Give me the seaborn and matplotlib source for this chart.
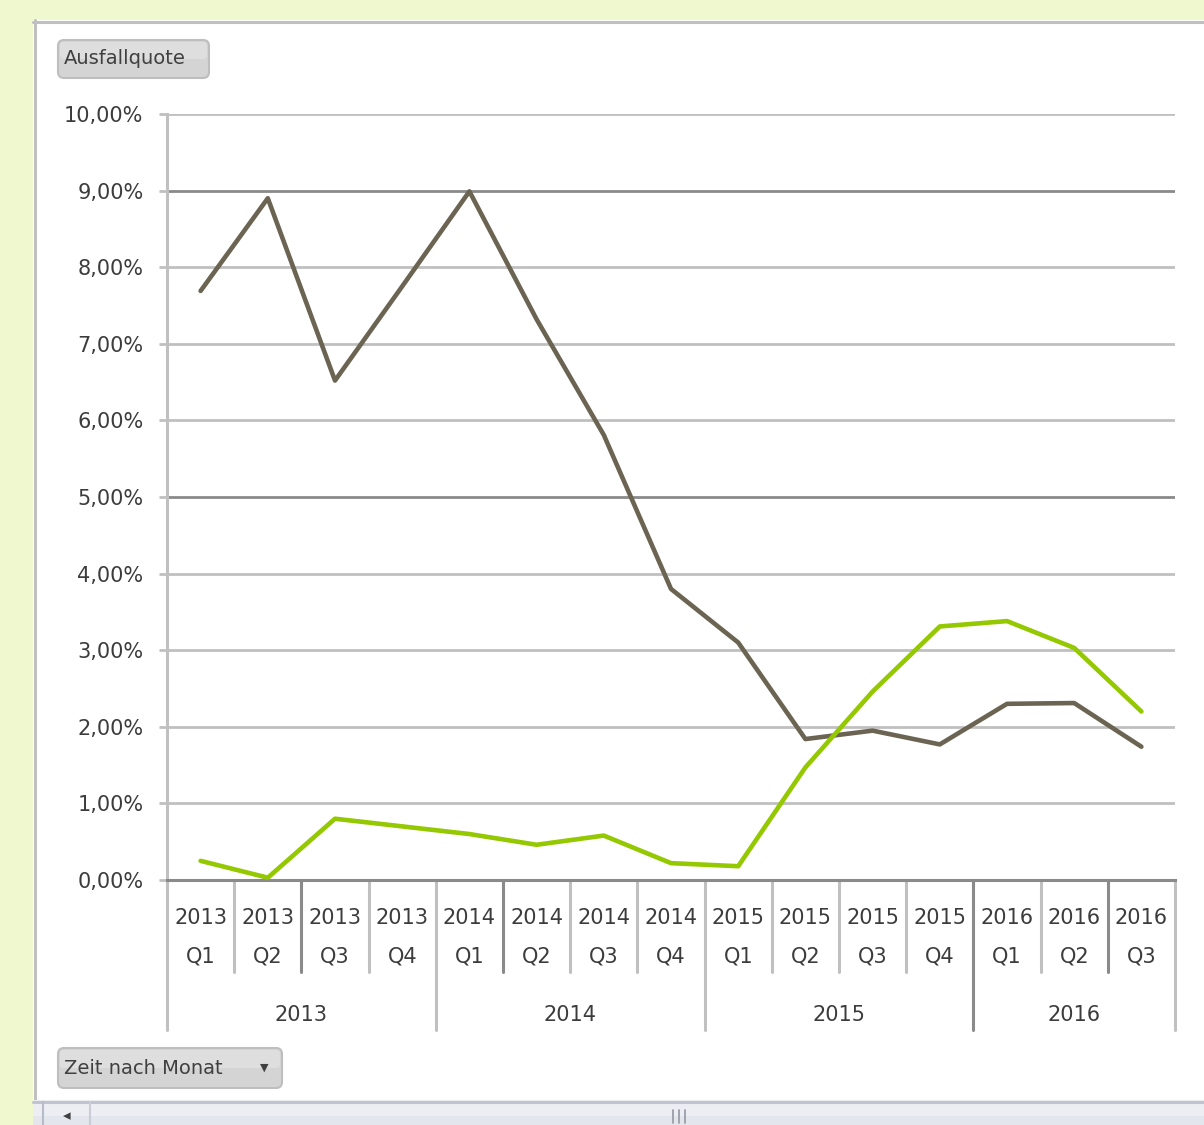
import numpy as np
import pandas as pd
import matplotlib
matplotlib.use("Agg")
import matplotlib.pyplot as plt
import matplotlib.transforms as mtransforms
from matplotlib.patches import Rectangle, FancyBboxPatch
from matplotlib.lines import Line2D
from matplotlib.ticker import FuncFormatter
import seaborn as sns

# ---------------- data ----------------
years = ["2013"] * 4 + ["2014"] * 4 + ["2015"] * 4 + ["2016"] * 3
quarters = ["Q1", "Q2", "Q3", "Q4"] * 3 + ["Q1", "Q2", "Q3"]
year_groups = ["2013", "2014", "2015", "2016"]
series_names = ["Reihe 1", "Reihe 2"]
values_brown = [7.69, 8.90, 6.52, 7.75, 8.99, 7.32, 5.81, 3.80, 3.10, 1.84, 1.95, 1.77, 2.30, 2.31, 1.74]
values_green = [0.25, 0.03, 0.80, 0.70, 0.60, 0.46, 0.58, 0.22, 0.18, 1.47, 2.46, 3.31, 3.38, 3.03, 2.20]
y_ticks = [0, 1, 2, 3, 4, 5, 6, 7, 8, 9, 10]

categories = [f"{y}\n{q}" for y, q in zip(years, quarters)]
pos = np.arange(len(categories))
df = pd.DataFrame({
    "pos": np.concatenate([pos, pos]),
    "Wert": values_brown + values_green,
    "Reihe": [series_names[0]] * len(pos) + [series_names[1]] * len(pos),
})

# ---------------- style ----------------
W, H = 1204, 1125
BG_GREEN = "#EFF8CE"
BROWN = "#6B6453"
GREEN = "#94C800"
LIGHT = "#C0C0C0"
DARK = "#8A8A8A"
TXT = "#3C3C3C"

sns.set_theme(style="white")
plt.rcParams["font.family"] = ["DejaVu Sans"]

fig = plt.figure(figsize=(W / 100, H / 100), dpi=100, facecolor=BG_GREEN)
ID = mtransforms.IdentityTransform()


def dy(y):
    return H - y


# white chart area + borders
fig.patches.append(Rectangle((33, dy(1100)), W - 33, 1100 - 20, transform=ID,
                             facecolor="white", edgecolor="none", zorder=-5))
fig.lines.append(Line2D([33, W], [dy(21.5), dy(21.5)], transform=ID, color=LIGHT, lw=2.2, zorder=1))
fig.lines.append(Line2D([34.5, 34.5], [dy(20), dy(1100)], transform=ID, color=LIGHT, lw=2.2, zorder=1))

# scroll bar at the bottom
fig.patches.append(Rectangle((33, 0), W - 33, 25, transform=ID,
                             facecolor="#ECEEF4", edgecolor="none", zorder=1))
fig.patches.append(Rectangle((33, 0), W - 33, 9, transform=ID,
                             facecolor="#E4E6EE", edgecolor="none", zorder=1))
fig.lines.append(Line2D([33, W], [dy(1101.5), dy(1101.5)], transform=ID, color="#C0C4CE", lw=2.2, zorder=2))
fig.lines.append(Line2D([43, 43], [0, dy(1102)], transform=ID, color="#B8BCC6", lw=1.5, zorder=2))
fig.lines.append(Line2D([90, 90], [0, dy(1102)], transform=ID, color="#C8CCD6", lw=1.5, zorder=2))
fig.text(67 / W, 1 - 1116 / H, "◂", ha="center", va="center", fontsize=11, color="#404040", zorder=3)
for xx in (673, 679, 685):
    fig.lines.append(Line2D([xx, xx], [dy(1123), dy(1110)], transform=ID, color="#9A9EA8", lw=1.3, zorder=2))

# ---------------- axes ----------------
ax = fig.add_axes([167 / W, 1 - 880 / H, (1175 - 167) / W, (880 - 114) / H])
ax.set_facecolor("none")
ax.set_zorder(5)

for v in y_ticks[1:]:
    ax.axhline(v, color=DARK if v in (5, 9) else LIGHT, lw=2.0, zorder=0)

sns.lineplot(data=df, x="pos", y="Wert", hue="Reihe", palette=[BROWN, GREEN],
             linewidth=3.3, sort=False, legend=False, ax=ax, zorder=3)

ax.set_xlim(-0.5, len(categories) - 0.5)
ax.set_ylim(0, 10)
ax.set_xlabel("")
ax.set_ylabel("")

ax.set_yticks(y_ticks)
ax.yaxis.set_major_formatter(FuncFormatter(lambda v, p: f"{v:.2f}".replace(".", ",") + "%"))
ax.tick_params(axis="y", length=6, width=2.0, color=LIGHT, pad=11, labelsize=15, labelcolor=TXT, left=True)
ax.set_xticks(pos)
ax.set_xticklabels(categories, linespacing=2.15)
ax.tick_params(axis="x", length=0, pad=20, labelsize=15, labelcolor=TXT)

for s in ("top", "right"):
    ax.spines[s].set_visible(False)
ax.spines["left"].set_color(LIGHT)
ax.spines["left"].set_linewidth(2.2)
ax.spines["bottom"].set_color(DARK)
ax.spines["bottom"].set_linewidth(2.2)

# category separators and year labels below the axis
bt = mtransforms.blended_transform_factory(ax.transData, ax.transAxes)
year_bounds = [-0.5]
for i in range(1, len(years)):
    if years[i] != years[i - 1]:
        year_bounds.append(i - 0.5)
year_bounds.append(len(years) - 0.5)
dark_bounds = {1.5, 4.5, 11.5, 13.5}
short_bottom = -(972 - 880) / 766
long_bottom = -(1030 - 880) / 766
for b in np.arange(-0.5, len(categories), 1.0):
    is_year = any(abs(b - yb) < 1e-9 for yb in year_bounds)
    ax.add_line(Line2D([b, b], [0, long_bottom if is_year else short_bottom], transform=bt,
                       color=DARK if b in dark_bounds else LIGHT, lw=2.2, clip_on=False))
for k, yg in enumerate(year_groups):
    center = (year_bounds[k] + year_bounds[k + 1]) / 2
    ax.text(center, -(1015 - 880) / 766, yg, transform=bt, ha="center", va="center",
            fontsize=15, color=TXT, clip_on=False)

# ---------------- buttons ----------------
def button(x0, y0, x1, y1, label, arrow=False):
    fig.patches.append(FancyBboxPatch((x0, dy(y1)), x1 - x0, y1 - y0, transform=ID,
                                      boxstyle="round,pad=0,rounding_size=6",
                                      facecolor="#D4D4D4", edgecolor="#BEBEBE", lw=1.5, zorder=2))
    fig.patches.append(FancyBboxPatch((x0 + 2, dy(y0 + (y1 - y0) * 0.5)), x1 - x0 - 4, (y1 - y0) * 0.45,
                                      transform=ID, boxstyle="round,pad=0,rounding_size=4",
                                      facecolor="#DEDEDE", edgecolor="none", zorder=2))
    fig.text((x0 + 6) / W, 1 - ((y0 + y1) / 2) / H, label, ha="left", va="center",
             fontsize=14, color="#404040", zorder=3)
    if arrow:
        fig.text((x1 - 18) / W, 1 - ((y0 + y1) / 2) / H, "▼", ha="center", va="center",
                 fontsize=8, color="#404040", zorder=3)


button(58, 40, 209, 78, "Ausfallquote")
button(58, 1048, 282, 1088, "Zeit nach Monat", arrow=True)

fig.savefig("out.png", dpi=100, facecolor=fig.get_facecolor())
